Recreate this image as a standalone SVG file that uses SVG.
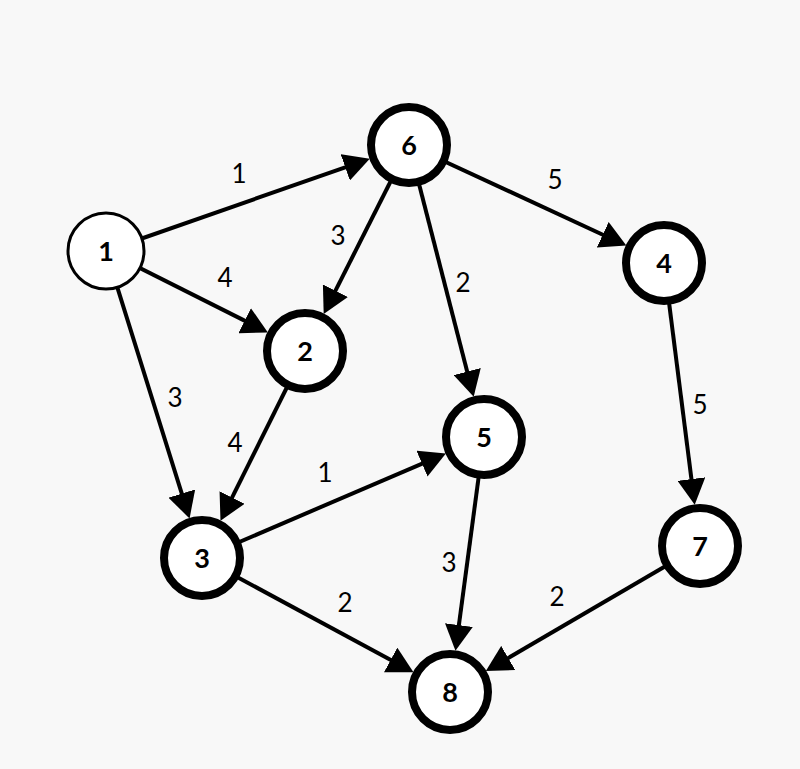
<svg xmlns="http://www.w3.org/2000/svg" width="800" height="769" viewBox="0 0 800 769">
<style>
.edge{stroke:#000;stroke-width:4;fill:none;marker-end:url(#ah)}
.node circle{fill:#fff;stroke:#000;stroke-width:8}
.node text{font-family:Lato,"Liberation Sans",sans-serif;font-weight:bold;font-size:27px;text-anchor:middle;fill:#000}
.lbl{font-family:Lato,"Liberation Sans",sans-serif;font-size:26px;text-anchor:middle;fill:#000}
</style>
<defs>
<marker id="ah" viewBox="0 0 26 28" refX="6" refY="14" markerWidth="26" markerHeight="28" markerUnits="userSpaceOnUse" orient="auto">
<path d="M0,0 L26,14 L0,28 z" fill="#000"/>
</marker>
</defs>
<rect width="800" height="769" fill="#f8f8f8"/>
<g id="edges">
<line class="edge" x1="106" y1="251" x2="350.9" y2="165.3"/>
<line class="edge" x1="106" y1="251" x2="250.0" y2="323.4"/>
<line class="edge" x1="106" y1="251" x2="183.6" y2="499.3"/>
<line class="edge" x1="409" y1="145" x2="332.7" y2="296.1"/>
<line class="edge" x1="409" y1="145" x2="468.7" y2="377.4"/>
<line class="edge" x1="409" y1="145" x2="608.2" y2="237.2"/>
<line class="edge" x1="305" y1="351" x2="229.4" y2="502.9"/>
<line class="edge" x1="202" y1="558" x2="427.5" y2="461.3"/>
<line class="edge" x1="202" y1="558" x2="395.9" y2="662.8"/>
<line class="edge" x1="484" y1="437" x2="458.1" y2="631.0"/>
<line class="edge" x1="664" y1="263" x2="692.2" y2="485.0"/>
<line class="edge" x1="700" y1="546" x2="503.1" y2="661.0"/>
</g>
<g id="labels">
<text class="lbl" x="239" y="183">1</text>
<text class="lbl" x="225" y="287">4</text>
<text class="lbl" x="175" y="407">3</text>
<text class="lbl" x="338" y="245">3</text>
<text class="lbl" x="463" y="292">2</text>
<text class="lbl" x="555" y="189">5</text>
<text class="lbl" x="235" y="452">4</text>
<text class="lbl" x="325" y="482">1</text>
<text class="lbl" x="345" y="612">2</text>
<text class="lbl" x="449" y="572">3</text>
<text class="lbl" x="700" y="414">5</text>
<text class="lbl" x="557" y="606">2</text>
</g>
<g id="node1" class="node"><circle cx="106" cy="251" r="38" style="stroke-width:3"/><text x="106" y="261">1</text></g>
<g id="node6" class="node"><circle cx="409" cy="145" r="38"/><text x="409" y="155">6</text></g>
<g id="node2" class="node"><circle cx="305" cy="351" r="38"/><text x="305" y="361">2</text></g>
<g id="node4" class="node"><circle cx="664" cy="263" r="38"/><text x="664" y="273">4</text></g>
<g id="node5" class="node"><circle cx="484" cy="437" r="38"/><text x="484" y="447">5</text></g>
<g id="node3" class="node"><circle cx="202" cy="558" r="38"/><text x="202" y="568">3</text></g>
<g id="node7" class="node"><circle cx="700" cy="546" r="38"/><text x="700" y="556">7</text></g>
<g id="node8" class="node"><circle cx="450" cy="692" r="38"/><text x="450" y="702">8</text></g>
</svg>
